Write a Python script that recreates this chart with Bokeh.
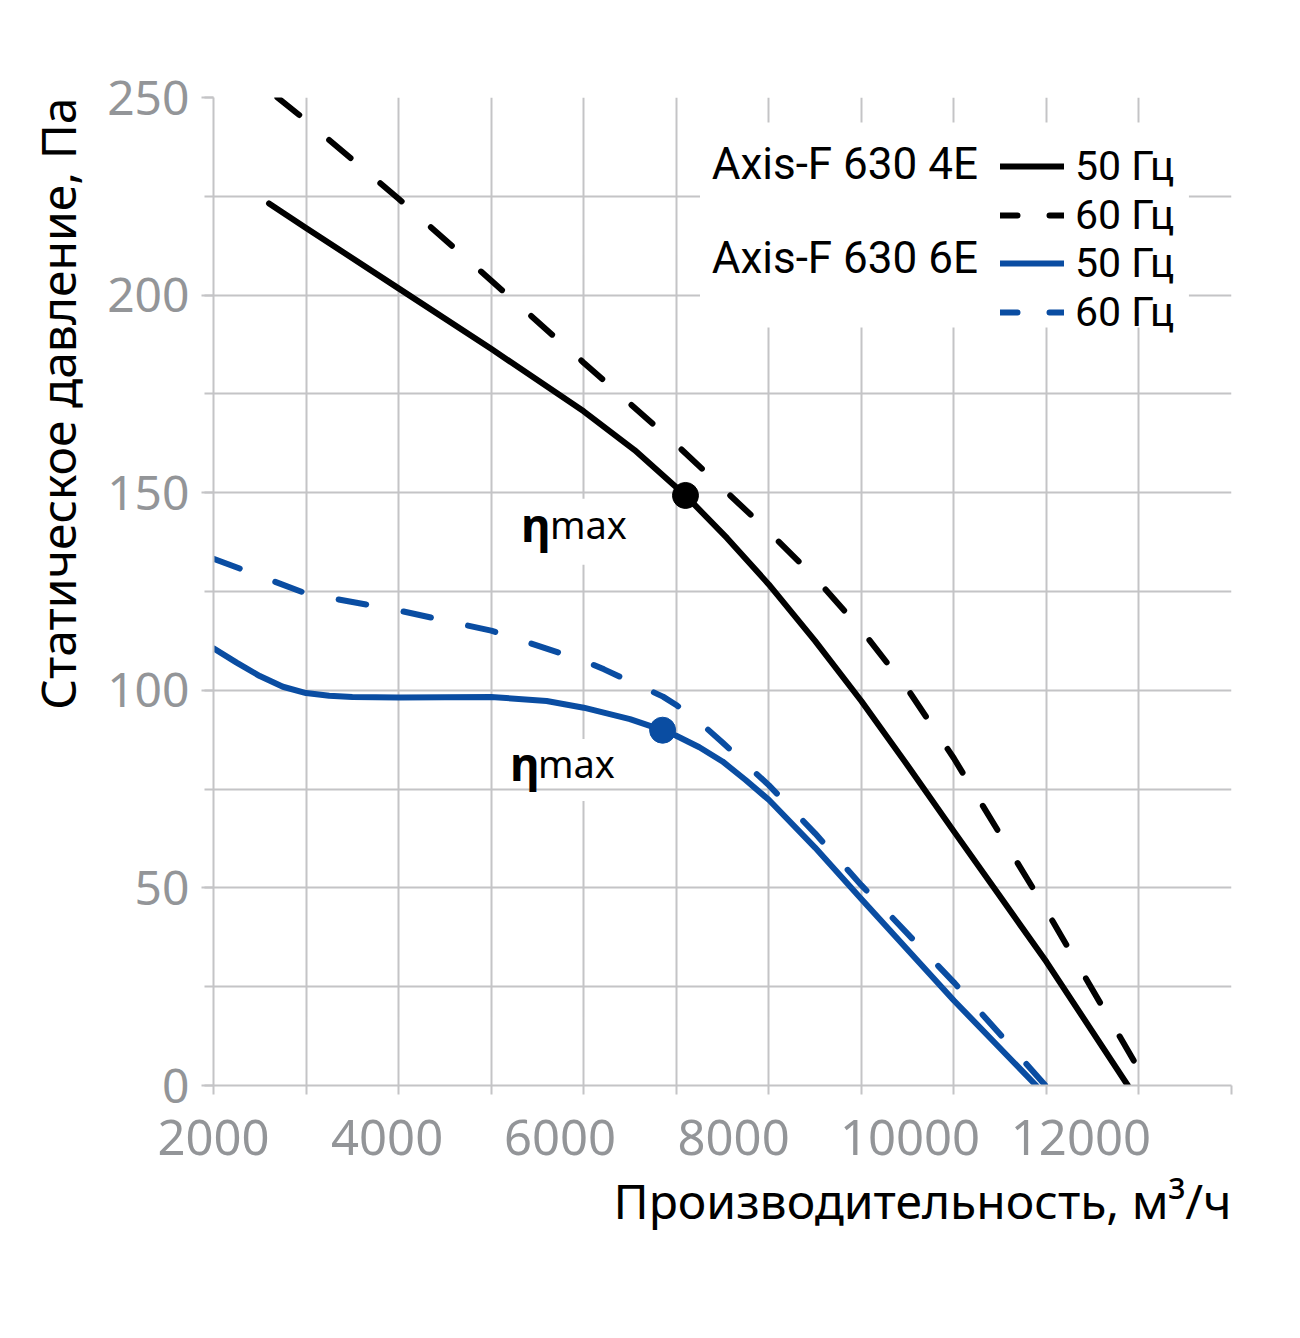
from bokeh.plotting import figure
from bokeh.models import FixedTicker, Label, BoxAnnotation, Legend, LegendItem, Range1d, Title
from bokeh.embed import file_html
from bokeh.resources import INLINE

# ---------------- data ----------------
flow_4e_50 = [2600, 3000, 4000, 5000, 6000, 6550, 7100, 7550, 8000, 8500, 9000, 9500, 10000, 10500, 11000, 11880]
pres_4e_50 = [223.2, 217.0, 201.7, 186.4, 170.6, 160.8, 149.3, 138.5, 126.8, 112.5, 97.3, 81.0, 64.3, 47.8, 31.3, 0.0]

flow_4e_60 = [2690, 3000, 4000, 5000, 6000, 7000, 8000, 8500, 9000, 9500, 10000, 11000, 12100]
pres_4e_60 = [250.0, 244.2, 224.4, 203.7, 182.9, 162.2, 140.1, 128.5, 115.3, 100.3, 82.8, 44.3, 0.0]

flow_6e_50 = [2000, 2250, 2500, 2750, 3000, 3250, 3500, 4000, 5000, 5600, 6000, 6500, 6853, 7000,
              7250, 7500, 7750, 8000, 8500, 9000, 10000, 10890]
pres_6e_50 = [110.6, 107.0, 103.6, 100.9, 99.3, 98.6, 98.3, 98.2, 98.3, 97.3, 95.6, 92.7, 89.9, 88.5,
              85.6, 82.0, 77.3, 72.3, 60.2, 47.2, 21.5, 0.0]

flow_6e_60 = [2000, 3000, 4000, 5000, 6000, 6220, 6857, 7000, 7250, 7500, 8000, 8500, 9000, 10000, 10990]
pres_6e_60 = [133.3, 124.5, 120.2, 115.1, 107.5, 105.3, 98.4, 96.3, 92.0, 86.8, 76.0, 63.8, 50.7, 26.1, 0.0]

eta_flow = [7100, 6853]
eta_pres = [149.3, 89.9]
eta_colors = ["#000000", "#0a4da2"]

x_tick_labels = ["2000", "4000", "6000", "8000", "10000", "12000"]
x_tick_label_pos = [2000, 3876, 5745, 7620, 9526, 11373]
x_grid = list(range(2000, 13001, 1000))
y_major = list(range(0, 251, 50))
y_grid = list(range(0, 251, 25))

legend_labels = ["50 Гц", "60 Гц", "50 Гц", "60 Гц"]
model_names = ["Axis-F 630 4E", "Axis-F 630 6E"]
x_title = "Производительность, м³/ч"
y_title = "Статическое давление, Па"

BLUE = "#0a4da2"
GRID = "#c4c4c6"
TICK = "#939598"

p = figure(frame_width=1018, frame_height=988, output_backend="svg", toolbar_location=None,
           x_range=Range1d(2000, 13000), y_range=Range1d(0, 250),
           min_border_left=213, min_border_top=97, min_border_bottom=200, min_border_right=55)
p.outline_line_color = None
p.background_fill_color = "white"

# grids
p.xgrid.ticker = FixedTicker(ticks=x_grid)
p.ygrid.ticker = FixedTicker(ticks=y_grid)
for g in (p.xgrid, p.ygrid):
    g.grid_line_color = GRID
    g.grid_line_width = 2

# axes
p.xaxis.ticker = FixedTicker(ticks=x_tick_label_pos, minor_ticks=x_grid)
p.xaxis.major_label_overrides = {pos: lab for pos, lab in zip(x_tick_label_pos, x_tick_labels)}
p.xaxis.major_tick_out = 0
p.xaxis.major_tick_in = 0
p.xaxis.minor_tick_out = 9
p.xaxis.minor_tick_in = 0
p.xaxis.major_label_standoff = 25
p.xaxis.major_label_text_font_size = "49px"

p.yaxis.ticker = FixedTicker(ticks=y_major, minor_ticks=y_grid)
p.yaxis.major_tick_out = 12
p.yaxis.major_tick_in = 0
p.yaxis.minor_tick_out = 9
p.yaxis.minor_tick_in = 0
p.yaxis.major_label_standoff = 12
p.yaxis.major_label_text_font_size = "48px"

for ax in (p.xaxis, p.yaxis):
    ax.axis_line_color = GRID
    ax.axis_line_width = 2
    ax.major_tick_line_color = GRID
    ax.major_tick_line_width = 2
    ax.minor_tick_line_color = GRID
    ax.minor_tick_line_width = 2
    ax.major_label_text_color = TICK
    ax.major_label_text_font = "Noto Sans"

# axis titles, end-aligned as in the reference
p.add_layout(Title(text=x_title, align="right", text_font="Noto Sans", text_font_size="48px",
                   text_font_style="normal", text_color="black", standoff=17), "below")
p.add_layout(Title(text=y_title, align="right", text_font="Noto Sans", text_font_size="48px",
                   text_font_style="normal", text_color="black", standoff=30), "left")

# curves
p.line(flow_4e_50, pres_4e_50, line_color="black", line_width=6, line_cap="round", line_join="round")
p.line(flow_4e_60, pres_4e_60, line_color="black", line_width=6, line_dash="28 39", line_cap="round")
p.line(flow_6e_50, pres_6e_50, line_color=BLUE, line_width=6, line_cap="round", line_join="round")
p.line(flow_6e_60, pres_6e_60, line_color=BLUE, line_width=6, line_dash="28 38", line_cap="round")
p.scatter(eta_flow, eta_pres, size=26, color=eta_colors)

# white patches behind eta labels (interrupt vertical grid only)
b_eta1 = BoxAnnotation(left=5258, right=6522, top=148.5, bottom=131.8, fill_color="white", fill_alpha=1,
                       line_alpha=0, level="underlay")
b_eta2 = BoxAnnotation(left=5149, right=6446, top=87.7, bottom=72.0, fill_color="white", fill_alpha=1,
                       line_alpha=0, level="underlay")
others = [r for r in p.center if r not in (p.xgrid[0], p.ygrid[0])]
p.center = [p.xgrid[0], b_eta1, b_eta2, p.ygrid[0]] + others

# eta labels
for xe, xm, yb in ((5323, 5636, 142.2), (5204, 5506, 81.7)):
    p.add_layout(Label(x=xe, y=yb, text="η", text_font="Noto Sans", text_font_style="bold",
                       text_font_size="46px", text_baseline="alphabetic", text_color="black"))
    p.add_layout(Label(x=xm, y=yb, text="max", text_font="Noto Sans",
                       text_font_size="38px", text_baseline="alphabetic", text_color="black"))

# legend backdrop
p.add_layout(BoxAnnotation(left=7257, right=12540, top=243.7, bottom=191.8, fill_color="white",
                           fill_alpha=1, line_alpha=0))

# legend sample renderers (one NaN point each, nothing drawn in the plot)
nan = [float("nan")]
s1 = p.line(nan, nan, line_color="black", line_width=6, line_cap="round")
s2 = p.line(nan, nan, line_color="black", line_width=6, line_dash="17 32", line_cap="round")
s3 = p.line(nan, nan, line_color=BLUE, line_width=6, line_cap="round")
s4 = p.line(nan, nan, line_color=BLUE, line_width=6, line_dash="17 32", line_cap="round")

# one legend per row so that the row pitch matches the reference
for lab, r, vy in zip(legend_labels, (s1, s2, s3, s4), (895, 846, 798, 749)):
    leg = Legend(items=[LegendItem(label=lab, renderers=[r])],
                 location=(787, vy), orientation="vertical", glyph_width=64, glyph_height=40,
                 label_height=40, spacing=0, padding=0, margin=0, label_standoff=11,
                 label_text_font="Roboto", label_text_font_size="41px", label_text_color="black",
                 background_fill_alpha=0, border_line_alpha=0)
    p.add_layout(leg)

for name, yb in zip(model_names, (233.05, 209.5)):
    p.add_layout(Label(x=10260, y=yb, text=name, text_align="right", text_baseline="alphabetic",
                       text_font="Roboto", text_font_size="44px", text_color="black"))

open("out.html", "w").write(file_html(p, INLINE))
